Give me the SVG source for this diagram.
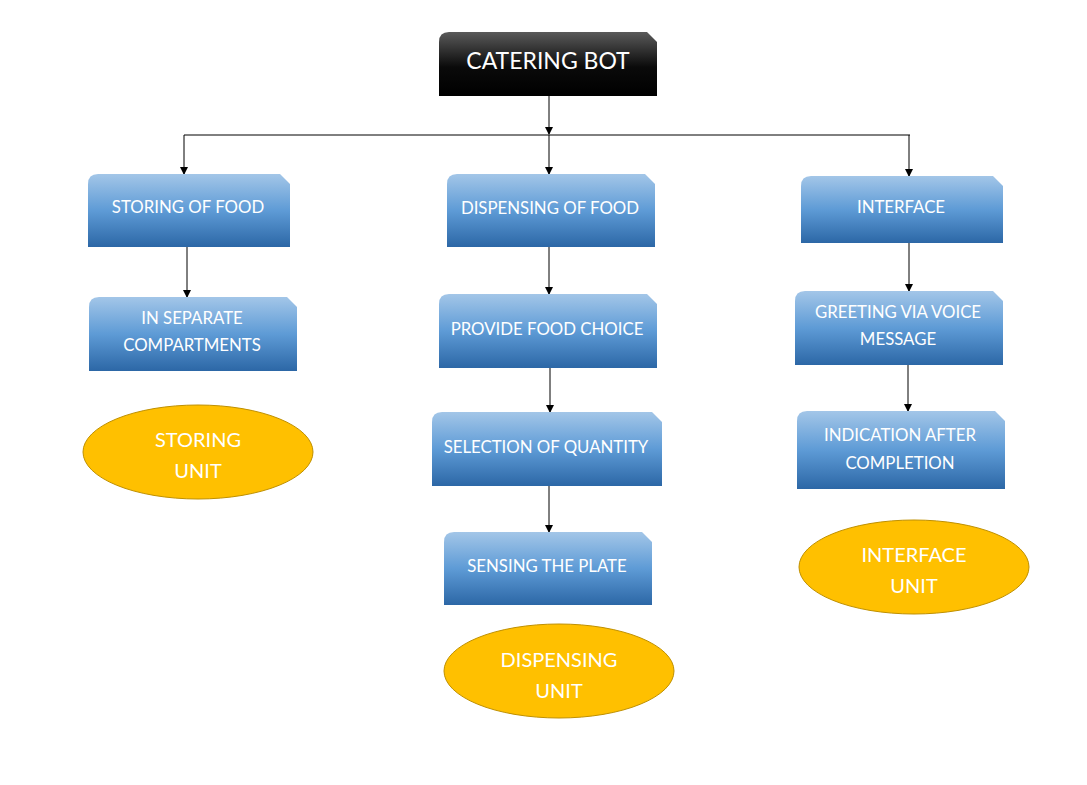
<svg xmlns="http://www.w3.org/2000/svg" width="1087" height="785" viewBox="0 0 1087 785">
<defs>
<linearGradient id="blue" x1="0" y1="0" x2="0" y2="1">
<stop offset="0" stop-color="#a3c6e8"/>
<stop offset="0.5" stop-color="#5e9bd6"/>
<stop offset="1" stop-color="#2c67a6"/>
</linearGradient>
<linearGradient id="black" x1="0" y1="0" x2="0" y2="1">
<stop offset="0" stop-color="#5a5a5a"/>
<stop offset="0.55" stop-color="#0a0a0a"/>
<stop offset="1" stop-color="#000"/>
</linearGradient>
<marker id="arr" markerWidth="8" markerHeight="8" refX="7" refY="4" orient="auto" markerUnits="userSpaceOnUse">
<path d="M0,0 L8,4 L0,8 z" fill="#000"/>
</marker>
</defs>
<style>
.box{fill:url(#blue);}
.t{font-family:Lato,"Open Sans",sans-serif;font-size:16.8px;fill:#fff;text-anchor:middle;}
.et{font-family:Lato,"Open Sans",sans-serif;font-size:20px;fill:#fff;text-anchor:middle;}
.ell{fill:#ffc000;stroke:#bf9000;stroke-width:1;}
.c{stroke:#000;stroke-width:1;fill:none;}
.ca{stroke:#000;stroke-width:1;fill:none;marker-end:url(#arr);}
</style>
<rect width="1087" height="785" fill="#fff"/>
<g id="connectors">
<path class="ca" d="M549,96 V134"/>
<path class="c" d="M184,135 H910"/>
<path class="ca" d="M184,135 V174"/>
<path class="ca" d="M549,135 V174"/>
<path class="ca" d="M909,135 V176"/>
<path class="ca" d="M187,247 V297"/>
<path class="ca" d="M549,247 V294"/>
<path class="ca" d="M550,368 V412"/>
<path class="ca" d="M549,486 V532"/>
<path class="ca" d="M909,243 V291"/>
<path class="ca" d="M908,365 V411"/>
</g>
<g id="catering-bot">
<path d="M439,42 Q439,32 449,32 H647 L657,42 V96 H439 Z" fill="url(#black)"/>
<text x="548" y="69" font-family="Lato,'Open Sans',sans-serif" font-size="23" fill="#fff" text-anchor="middle">CATERING BOT</text>
</g>
<g id="storing-of-food">
<path class="box" d="M88,184 Q88,174 98,174 H280 L290,184 V247 H88 Z"/>
<text class="t" x="188" y="213">STORING OF FOOD</text>
</g>
<g id="in-separate-compartments">
<path class="box" d="M89,307 Q89,297 99,297 H287 L297,307 V371 H89 Z"/>
<text class="t" x="192" y="324">IN SEPARATE</text>
<text class="t" x="192" y="351">COMPARTMENTS</text>
</g>
<g id="storing-unit">
<ellipse class="ell" cx="198" cy="452" rx="115" ry="47"/>
<text class="et" x="198" y="447">STORING</text>
<text class="et" x="198" y="478">UNIT</text>
</g>
<g id="dispensing-of-food">
<path class="box" d="M447,184 Q447,174 457,174 H645 L655,184 V247 H447 Z"/>
<text class="t" x="550" y="214">DISPENSING OF FOOD</text>
</g>
<g id="provide-food-choice">
<path class="box" d="M439,304 Q439,294 449,294 H647 L657,304 V368 H439 Z"/>
<text class="t" x="547" y="335">PROVIDE FOOD CHOICE</text>
</g>
<g id="selection-of-quantity">
<path class="box" d="M432,422 Q432,412 442,412 H652 L662,422 V486 H432 Z"/>
<text class="t" x="546" y="453">SELECTION OF QUANTITY</text>
</g>
<g id="sensing-the-plate">
<path class="box" d="M444,542 Q444,532 454,532 H642 L652,542 V605 H444 Z"/>
<text class="t" x="547" y="572">SENSING THE PLATE</text>
</g>
<g id="dispensing-unit">
<ellipse class="ell" cx="559" cy="671" rx="115" ry="47"/>
<text class="et" x="559" y="667">DISPENSING</text>
<text class="et" x="559" y="698">UNIT</text>
</g>
<g id="interface">
<path class="box" d="M801,186 Q801,176 811,176 H993 L1003,186 V243 H801 Z"/>
<text class="t" x="901" y="213">INTERFACE</text>
</g>
<g id="greeting">
<path class="box" d="M795,301 Q795,291 805,291 H993 L1003,301 V365 H795 Z"/>
<text class="t" x="898" y="318">GREETING VIA VOICE</text>
<text class="t" x="898" y="345">MESSAGE</text>
</g>
<g id="indication">
<path class="box" d="M797,421 Q797,411 807,411 H995 L1005,421 V489 H797 Z"/>
<text class="t" x="900" y="441">INDICATION AFTER</text>
<text class="t" x="900" y="469">COMPLETION</text>
</g>
<g id="interface-unit">
<ellipse class="ell" cx="914" cy="567" rx="115" ry="47"/>
<text class="et" x="914" y="562">INTERFACE</text>
<text class="et" x="914" y="593">UNIT</text>
</g>
</svg>
